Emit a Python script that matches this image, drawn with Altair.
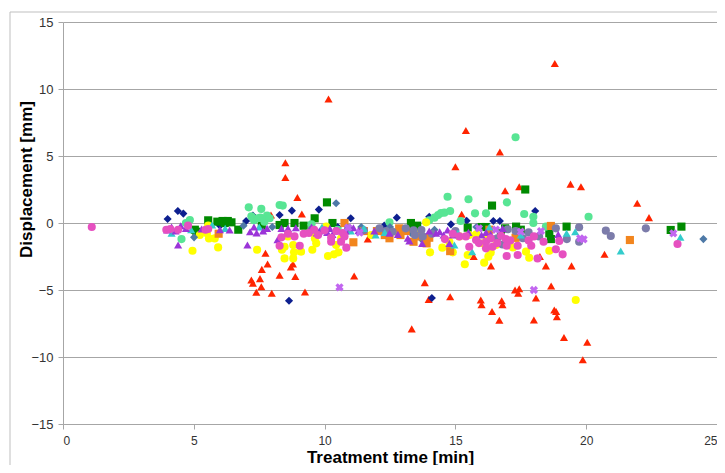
import altair as alt
import pandas as pd

# ---- data ----
red_x = [7.95, 8.96, 9.13, 8.5, 8.5, 10.15, 7.74, 7.82, 7.6, 7.53, 7.2, 7.26, 7.58, 7.39, 7.98, 8.28, 8.71, 8.79, 8.88, 9.25,
         11.65, 11.13, 13.33, 13.83, 13.98, 14.8, 15.0, 15.24, 15.4, 15.7, 15.97, 16.0, 16.36, 16.4, 16.68, 16.7, 16.77, 16.8, 16.9,
         17.28, 17.44, 17.4, 17.44, 18.08, 18.0, 18.23, 18.46, 18.66, 18.78, 18.85, 18.88, 18.8, 19.15, 19.44, 19.4, 19.8, 19.87,
         20.04, 20.7, 21.95, 22.4]
red_y = [0.6, 1.9, 0.67, 4.5, 3.4, 9.25, -2.26, -3.06, -3.46, -4.15, -4.25, -4.5, -4.75, -5.17, -5.25, -3.9, -3.28, -3.06, -4.0, -5.15,
         -1.2, -3.96, -7.9, -4.45, -5.7, -5.5, 4.2, 0.65, 6.9, -2.5, -5.75, -6.1, -3.2, -6.6, -7.26, 5.3, -5.8, -6.1, 2.4,
         -5.0, -4.9, -5.25, 2.7, -5.6, -7.24, -2.5, -3.2, -4.7, -6.5, -6.6, -7.0, 11.9, -8.55, -3.2, 2.9, 2.7, -10.2,
         -8.9, -2.34, 1.47, 0.4]

navy_x = [4.0, 4.39, 4.6, 6.0, 7.0, 7.26, 8.28, 8.75, 9.78, 8.64, 10.5, 11.0, 12.28, 12.76, 13.2, 14.0, 14.1, 14.83, 15.43, 16.45, 16.7, 18.05]
navy_y = [0.3, 0.9, 0.7, -0.2, 0.15, 0.55, 0.6, 0.92, 1.0, -5.8, -0.3, 0.35, -0.2, 0.4, -0.4, 0.47, -5.6, -0.1, 0.17, 0.15, 0.15, 0.9]

green_x = [5.04, 5.1, 5.55, 5.9, 6.1, 6.18, 6.3, 6.44, 6.7, 7.6, 8.28, 8.47, 8.85, 9.2, 9.62, 10.09, 10.3, 13.18, 13.3, 13.54,
           15.47, 16.0, 16.17, 16.4, 16.74, 16.9, 17.32, 17.5, 17.67, 18.59, 18.65, 19.25, 23.23, 23.64]
green_y = [-0.5, -0.65, 0.2, 0.1, 0.15, 0.0, 0.15, 0.05, -0.5, -0.2, -0.15, 0.0, 0.0, -0.2, 0.35, 1.54, 0.0, -0.5, 0.0, -0.2,
           -0.35, -0.3, -0.3, 1.3, -0.77, -0.4, -0.27, -0.5, 2.5, -0.77, -1.2, -0.27, -0.52, -0.27]

lgreen_x = [4.53, 4.7, 4.85, 7.1, 7.2, 7.3, 7.45, 7.55, 7.58, 7.7, 7.8, 7.9, 8.28, 8.4, 9.5, 10.5, 12.48, 14.0, 14.2, 14.34,
            14.45, 14.58, 14.7, 14.8, 15.2, 15.5, 15.75, 16.17, 16.97, 17.3, 17.63, 17.98, 17.98, 18.46, 20.09]
lgreen_y = [-1.2, 0.0, 0.22, 1.17, 0.5, 0.2, 0.35, 0.4, 1.05, 0.1, 0.55, 0.35, 1.34, 1.3, -0.1, -0.5, 0.05, 0.2, 0.4, 0.6,
            0.75, 0.77, 1.96, 0.9, 0.15, 1.77, 0.72, 0.72, 1.54, 6.4, 0.67, 0.47, 0.0, -0.27, 0.47]

yellow_x = [4.95, 5.23, 5.5, 5.55, 5.58, 5.8, 5.93, 7.42, 8.37, 8.47, 8.47, 8.6, 8.8, 8.8, 8.83, 9.1, 9.53, 9.63, 9.65, 9.68,
            10.06, 10.13, 10.36, 10.44, 10.53, 10.63, 11.78, 12.8, 13.5, 13.88, 14.03, 14.5, 14.77, 14.9, 15.15, 15.36, 15.47,
            15.53, 15.8, 16.04, 16.1, 16.2, 16.26, 16.35, 16.55, 17.2, 17.32, 17.7, 17.82, 18.59, 19.6]
yellow_y = [-2.07, -0.9, -0.77, -0.2, -1.15, -1.15, -1.82, -2.0, -2.0, -2.64, -1.77, -1.0, -1.65, -2.64, -2.19, -2.14, -2.0, -1.15,
            -0.77, -1.52, -0.27, -2.46, -2.34, -1.64, -2.19, -1.14, -0.9, -0.7, -0.8, 0.05, -2.19, -1.84, -1.4, -2.19, -1.0, -3.08,
            -2.39, -0.9, -0.85, -1.52, -2.96, -1.2, -2.51, -2.2, -1.64, -1.82, -1.14, -2.14, -2.59, -2.07, -5.75]

steel_x = [5.01, 6.9, 8.0, 10.44, 11.4, 12.0, 12.5, 12.9, 13.3, 13.7, 14.2, 15.8, 24.48]
steel_y = [-1.07, -0.2, -0.3, 1.47, -0.3, -0.5, -0.3, -0.6, -0.75, -1.2, -0.5, -0.3, -1.2]

orange_x = [5.95, 10.76, 11.1, 11.5, 12.0, 12.3, 12.48, 12.85, 12.9, 13.1, 13.4, 13.6, 13.9, 14.0, 14.8, 16.3, 17.3, 18.65, 21.67]
orange_y = [-0.8, 0.0, -1.44, -0.6, -0.6, -0.9, -1.14, -0.4, -0.9, -0.6, -1.4, -1.0, -1.52, -1.1, -2.1, -0.5, -1.1, -0.22, -1.27]

slate_x = [9.5, 10.9, 11.5, 12.1, 12.35, 12.6, 13.1, 13.4, 13.45, 13.7, 13.75, 14.1, 15.0, 16.6, 16.8, 17.0, 17.3, 17.58,
           17.8, 18.2, 18.84, 19.26, 19.73, 19.73, 20.75, 20.94, 22.28]
slate_y = [-0.5, -0.4, -0.55, -0.4, -0.6, -0.65, -0.4, -0.55, -0.9, -0.52, -1.0, -0.8, -0.6, -1.14, -1.6, -0.47, -0.6, -1.14,
           -0.7, -1.0, -0.4, -1.2, -0.32, -1.4, -0.57, -0.97, -0.4]

cyan_x = [4.15, 4.9, 5.7, 6.2, 7.5, 9.9, 11.0, 11.5, 11.95, 12.3, 14.96, 15.1, 15.64, 16.3, 17.5, 19.25, 19.58, 21.32, 23.6]
cyan_y = [-0.77, -0.5, -0.15, -0.4, -0.3, -0.3, -0.6, -0.4, -0.9, -0.7, -1.64, -0.75, -2.14, -0.3, -0.9, -0.77, -0.65, -2.09, -1.07]

purple_x = [3.98, 4.15, 4.3, 4.4, 4.5, 4.7, 5.3, 6.0, 6.37, 7.05, 7.15, 7.3, 7.4, 7.65, 7.8, 8.2, 8.35, 8.6, 8.9, 9.5, 9.7, 9.8,
            10.0, 10.1, 10.2, 10.3, 10.5, 10.8, 11.1, 11.3, 11.9, 12.48, 12.8, 13.18, 13.24, 13.73, 14.0, 14.26, 14.4, 14.55, 14.7,
            14.77, 14.9, 15.5, 16.0, 16.17, 16.35, 16.8, 18.93]
purple_y = [-0.52, -0.3, -0.6, -1.64, -0.2, -0.4, -0.45, -0.5, -0.52, -1.64, -0.65, -0.3, -0.75, -0.6, -0.4, -1.25, -0.4, -0.4,
            -0.35, -0.3, -0.75, -0.6, -0.5, -0.7, -0.4, -0.85, -0.6, -0.6, -0.35, -0.55, -0.6, -0.77, -0.85, -1.14, -1.34, -1.52,
            -0.6, -0.77, -0.65, -0.9, -0.52, -1.52, -0.9, -0.7, -0.9, -0.7, -0.85, -0.4, -0.85]

pink_x = [1.1, 3.95, 4.1, 4.4, 4.78, 5.45, 5.55, 8.28, 8.35, 8.6, 8.85, 9.05, 9.2, 9.4, 9.6, 9.75, 10.0, 10.25, 10.25, 10.45,
          10.63, 10.7, 10.76, 10.83, 14.6, 14.9, 15.15, 15.4, 15.53, 15.79, 15.9, 16.17, 16.17, 16.35, 16.42, 16.6, 16.75, 16.93,
          16.96, 16.96, 17.1, 17.38, 17.38, 17.8, 17.9, 18.0, 18.14, 18.37, 18.84, 18.97, 19.1, 23.49]
pink_y = [-0.3, -0.5, -0.45, -0.5, -0.2, -0.5, -0.45, -1.7, -1.07, -0.8, -1.0, -1.7, -0.8, -0.75, -0.5, -0.9, -0.55, -1.1, -1.4,
          -0.6, -1.4, -0.75, -1.0, -1.84, -1.2, -0.8, -1.0, -1.0, -1.77, -1.27, -1.5, -1.4, -1.89, -1.15, -1.77, -1.5, -0.95, -1.2,
          -1.7, -2.46, -1.3, -1.7, -2.39, -1.3, -1.7, -1.0, -2.64, -1.4, -1.96, -1.34, -2.34, -1.57]

xstar_x = [10.57, 10.9, 11.34, 15.9, 16.55, 17.5, 18.0, 18.27, 19.77, 19.9, 23.33]
xstar_y = [-4.8, -0.35, -0.72, -0.4, -0.5, -0.65, -5.0, -0.6, -1.14, -1.22, -0.77]

series = [
    ("S1", red_x, red_y, "#FF2400", "triangle-up"),
    ("S2", navy_x, navy_y, "#0D1F8F", "diamond"),
    ("S3", green_x, green_y, "#008A00", "square"),
    ("S4", lgreen_x, lgreen_y, "#58E594", "circle"),
    ("S5", yellow_x, yellow_y, "#FFFF00", "circle"),
    ("S6", steel_x, steel_y, "#4E79A7", "diamond"),
    ("S7", orange_x, orange_y, "#F2851E", "square"),
    ("S8", slate_x, slate_y, "#7C7CAA", "circle"),
    ("S9", cyan_x, cyan_y, "#33CCCC", "triangle-up"),
    ("S10", purple_x, purple_y, "#9B34D8", "triangle-up"),
    ("S11", pink_x, pink_y, "#E650C0", "circle"),
]

rows = []
for name, xs, ys, _, _ in series:
    for a, b in zip(xs, ys):
        rows.append({"t": a, "d": b, "s": name})
df = pd.DataFrame(rows)
dfx = pd.DataFrame({"t": xstar_x, "d": xstar_y})

names = [s[0] for s in series]
colors = [s[3] for s in series]
shapes = [s[4] for s in series]

FONT = "Liberation Sans"

xenc = alt.X("t:Q", scale=alt.Scale(domain=[0, 25], nice=False, zero=False),
             axis=alt.Axis(values=[0, 5, 10, 15, 20, 25], title="Treatment time [min]", grid=False,
                           domainColor="#a6a6a6", tickColor="#a6a6a6", tickSize=5, labelFontSize=12,
                           labelColor="#333333", labelPadding=6, labelFont=FONT, titleFont=FONT,
                           titleFontSize=17, titleFontWeight="bold", titleColor="#000000",
                           titleY=38, titleBaseline="alphabetic"))
yenc = alt.Y("d:Q", scale=alt.Scale(domain=[-15, 15], nice=False, zero=False),
             axis=alt.Axis(values=[-15, -10, -5, 0, 5, 10, 15], title="Displacement [mm]", grid=True,
                           gridColor="#a6a6a6", domainColor="#a6a6a6", tickColor="#a6a6a6", tickSize=5,
                           labelFontSize=13, labelColor="#333333", labelPadding=5, labelFont=FONT, titleFont=FONT,
                           titleFontSize=17, titleFontWeight="bold", titleColor="#000000",
                           titleX=-37, titleY=157, titleBaseline="middle", titleAngle=-90))

pts = alt.Chart(df).mark_point(filled=True, opacity=1, size=66, strokeWidth=0).encode(
    x=xenc, y=yenc,
    color=alt.Color("s:N", scale=alt.Scale(domain=names, range=colors), legend=None),
    shape=alt.Shape("s:N", scale=alt.Scale(domain=names, range=shapes), legend=None),
)

xs_layer = alt.Chart(dfx).mark_point(filled=True, opacity=1, size=70, shape="cross", angle=45,
                                    color="#C266F0", strokeWidth=0).encode(x="t:Q", y="d:Q")

border = alt.Chart(pd.DataFrame({"k": [0]})).mark_rect(fill=None, stroke="#bfbfbf", strokeWidth=1).encode(
    x=alt.value(-53), x2=alt.value(720), y=alt.value(-10), y2=alt.value(520))

chart = alt.layer(border, pts, xs_layer).properties(
    width=654, height=402, autosize=alt.AutoSizeParams(type="none"),
    padding={"left": 55, "top": 14, "right": 0, "bottom": 41},
).configure_view(strokeWidth=0)

chart.save("out.html", embed_options={"renderer": "svg", "actions": False})
